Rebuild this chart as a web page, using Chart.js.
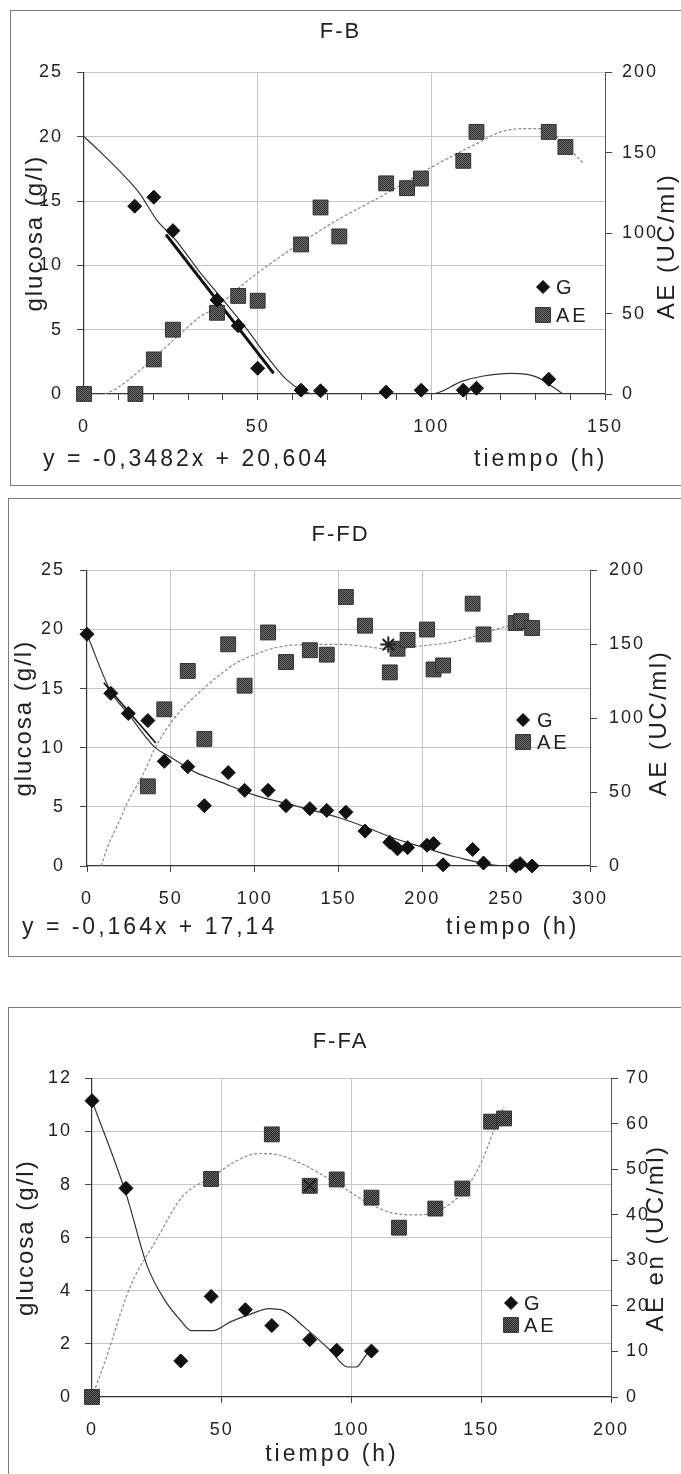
<!DOCTYPE html>
<html>
<head>
<meta charset="utf-8">
<title>F-B, F-FD, F-FA</title>
<script src="https://cdn.jsdelivr.net/npm/chart.js@4.4.1/dist/chart.umd.min.js"></script>
<style>
    html, body { margin: 0; padding: 0; background: #fff; }
    body { position: relative; width: 681px; height: 1474px; overflow: hidden; }
    .frame { position: absolute; border: 1px solid #7a7a7a; }
    canvas { position: absolute; left: 0; }
</style>
</head>
<body>
<div class="frame" style="left:10px; top:10px; width:700px; height:474px;"></div>
<div class="frame" style="left:8px; top:498px; width:700px; height:457px;"></div>
<div class="frame" style="left:8px; top:1007px; width:700px; height:520px;"></div>

<canvas id="chartFB" width="681" height="475" style="top:10px; width:681px; height:475px;"></canvas>
<canvas id="chartFFD" width="681" height="458" style="top:498px; width:681px; height:458px;"></canvas>
<canvas id="chartFFA" width="681" height="467" style="top:1007px; width:681px; height:467px;"></canvas>

<script>
// ---- F-B ----
const fbTimeG = [14.6, 20.1, 25.6, 38.3, 44.4, 50, 62.5, 68.1, 87, 97.1, 109.2, 113, 133.8];
const fbGlucose = [14.6, 15.3, 12.7, 7.3, 5.3, 2.0, 0.3, 0.25, 0.15, 0.3, 0.3, 0.45, 1.15];
const fbTimeAE = [0, 14.8, 20.1, 25.6, 38.3, 44.4, 50, 62.5, 68.1, 73.5, 87, 93, 97, 109.2, 113, 133.8, 138.6];
const fbAE = [0, 0, 21.5, 40, 50.5, 61, 58, 93, 116, 98, 131, 128, 134, 145, 163, 163, 153.6];
const fbFitGTime = [0, 4, 10, 16, 21, 26, 33, 41, 47, 53, 58, 62.5, 66, 100, 109, 115, 123, 130, 138];
const fbFitG = [20, 19, 17.4, 15.6, 13.5, 12.1, 9.6, 7.0, 5.0, 2.8, 1.2, 0.3, 0, 0, 1.0, 1.4, 1.6, 1.35, 0];
const fbFitAETime = [6, 9.4, 20, 25.7, 33.4, 38.2, 44.9, 53.6, 62.2, 72.8, 85.2, 100, 113, 120, 126, 132.6, 138.6, 144];
const fbFitAE = [0, 3.5, 22, 33.5, 48, 54, 66.6, 81, 93.6, 108, 122.5, 141, 155.7, 163, 165, 165, 154.7, 143];
const fbRegTime = [23.6, 54.6];
const fbRegG = [12.4, 1.6];

// ---- F-FD ----
const fdTimeG = [0, 14.2, 24.6, 36.3, 46.1, 60.1, 70, 84.2, 94, 108, 118.7, 132.9, 143, 154.4, 165.8, 180.6, 185.2, 191.2, 202.8, 206.7, 212.4, 230, 236.5, 255.7, 258.3, 265.5];
const fdGlucose = [19.6, 14.6, 12.9, 12.3, 8.85, 8.4, 5.1, 7.9, 6.4, 6.4, 5.1, 4.85, 4.7, 4.55, 2.95, 2.0, 1.45, 1.55, 1.75, 1.9, 0.1, 1.4, 0.25, 0, 0.2, 0];
const fdTimeAE = [36.3, 46.1, 60.1, 70, 84.2, 94, 108, 118.7, 132.9, 143, 154.4, 165.8, 180.6, 185.2, 191.2, 202.8, 206.7, 212.4, 230, 236.5, 255.7, 259, 265.5];
const fdAE = [53.9, 106, 132, 86, 150, 122, 158, 138, 146, 143, 182, 162.6, 131, 147, 153, 160, 133, 135.7, 177.5, 156.7, 164.4, 165.7, 161];
const fdFitGTime = [0, 14, 25, 40, 50, 65, 78, 100, 124, 150, 166, 181, 200, 220, 250, 275];
const fdFitG = [19.6, 14.8, 12.8, 10.1, 9.2, 7.9, 7.2, 6.0, 5.1, 4.1, 3.3, 2.45, 1.6, 0.76, 0, 0];
const fdFitAETime = [8.5, 12, 18.7, 25, 32.6, 40.5, 50, 60, 69.4, 80, 90, 100, 110, 123, 150, 170, 180, 200, 220, 250, 262];
const fdFitAE = [0, 12, 29, 45, 60, 79.5, 97, 110, 120, 130, 138, 143, 147, 149.5, 150, 148, 146.5, 149, 152, 162, 165];
const fdRegTime = [10, 41];
const fdRegG = [15.5, 10.4];
const fdStarTime = [179.7];
const fdStarAE = [149.8];

// ---- F-FA ----
const faTimeG = [0, 13.1, 34.2, 45.9, 59.1, 69.3, 83.9, 94.3, 107.7];
const faGlucose = [11.16, 7.86, 1.36, 3.79, 3.29, 2.69, 2.16, 1.76, 1.73];
const faTimeAE = [0, 45.9, 69.3, 83.9, 94.3, 107.7, 118.3, 132.3, 142.7, 153.8, 158.8];
const faAE = [0, 47.9, 57.7, 46.4, 47.8, 43.8, 37.2, 41.4, 45.8, 60.5, 61.2];
const faFitGTime = [0, 13.1, 21.4, 28.1, 34, 38.2, 46.6, 53.3, 61.6, 68.3, 73.4, 81.7, 91.8, 98.5, 101.8, 106, 107.7];
const faFitG = [11.16, 7.66, 4.9, 3.64, 2.9, 2.5, 2.5, 2.83, 3.14, 3.33, 3.27, 2.64, 1.76, 1.13, 1.13, 1.63, 1.76];
const faFitAETime = [0, 4.7, 14.7, 24.8, 34.8, 46.6, 55, 64.2, 71.7, 81.7, 95.1, 106.9, 115.2, 125.3, 133.7, 143.7, 150.4, 155.4, 158.8];
const faFitAE = [0, 7.3, 24.2, 34.5, 44, 48.4, 51.7, 53.5, 53.2, 51, 46.6, 42.5, 40.5, 40, 41, 45.5, 52, 59.4, 63.8];
const faStarTime = [83.9];
const faStarAE = [46.4];

const FONT = '"Liberation Sans", Arial, Helvetica, sans-serif';
Chart.defaults.font.family = FONT;
Chart.defaults.color = '#222';

function toPoints(xs, ys) {
    return xs.map((x, i) => ({ x: x, y: ys[i] }));
}

// speckled grey fill like the scanned squares
function makeTexture(dark, light) {
    const c = document.createElement('canvas');
    c.width = 2;
    c.height = 2;
    const g = c.getContext('2d');
    g.fillStyle = light;
    g.fillRect(0, 0, 2, 2);
    g.fillStyle = dark;
    g.fillRect(0, 0, 1, 1);
    g.fillRect(1, 1, 1, 1);
    return g.createPattern(c, 'repeat');
}

// extra texts (right axis title, equation, x title) and the in-plot legend
const panelText = {
    id: 'panelText',
    beforeLayout(chart) { chart.ctx.letterSpacing = '2px'; },
    beforeDraw(chart) { chart.ctx.letterSpacing = '2px'; },
    afterDraw(chart, args, opts) {
        const ctx = chart.ctx;
        (opts.labels || []).forEach(l => {
            ctx.save();
            ctx.letterSpacing = l.spacing || '2px';
            ctx.font = l.size + 'px ' + FONT;
            ctx.fillStyle = '#222';
            ctx.textAlign = l.align || 'left';
            ctx.textBaseline = 'middle';
            ctx.translate(l.x, l.y);
            if (l.rotate) ctx.rotate(l.rotate * Math.PI / 180);
            ctx.fillText(l.text, 0, 0);
            ctx.restore();
        });

        const lg = opts.legend;
        if (!lg) return;
        lg.items.forEach((it, i) => {
            const ds = chart.data.datasets[it.dataset];
            const y = lg.y + i * lg.gap;
            ctx.save();
            ctx.fillStyle = ds.backgroundColor;
            ctx.strokeStyle = ds.borderColor;
            ctx.lineWidth = ds.borderWidth;
            Chart.helpers.drawPoint(ctx, {
                pointStyle: ds.pointStyle, radius: it.radius, rotation: 0, borderWidth: ds.borderWidth
            }, lg.x, y);
            ctx.letterSpacing = '3px';
            ctx.font = '20px ' + FONT;
            ctx.fillStyle = '#222';
            ctx.textAlign = 'left';
            ctx.textBaseline = 'middle';
            ctx.fillText(ds.label, lg.textX, y + 1);
            ctx.restore();
        });
    }
};

function buildPanel(id, cfg) {
    const squareFill = makeTexture(cfg.squareDark, '#6a6a6a');
    const datasets = [
        {
            label: 'G', data: toPoints(cfg.g[0], cfg.g[1]), yAxisID: 'y',
            pointStyle: 'rectRot', pointRadius: 7, pointHoverRadius: 7,
            backgroundColor: '#111', borderColor: '#111', borderWidth: 1,
            showLine: false, clip: false, order: 1
        },
        {
            label: 'AE', data: toPoints(cfg.ae[0], cfg.ae[1]), yAxisID: 'y1',
            pointStyle: 'rect', pointRadius: 10.5, pointHoverRadius: 10.5,
            backgroundColor: squareFill, borderColor: '#333', borderWidth: 1,
            showLine: false, clip: false, order: 2
        },
        {
            label: 'fitG', data: toPoints(cfg.fitG[0], cfg.fitG[1]), yAxisID: 'y',
            showLine: true, pointRadius: 0, borderColor: '#333', borderWidth: 1.2,
            cubicInterpolationMode: 'monotone', order: 6
        },
        {
            label: 'fitAE', data: toPoints(cfg.fitAE[0], cfg.fitAE[1]), yAxisID: 'y1',
            showLine: true, pointRadius: 0, borderColor: '#8a8a8a', borderWidth: 1.2,
            borderDash: [3, 2], cubicInterpolationMode: 'monotone', order: 7
        }
    ];
    if (cfg.reg) {
        datasets.push({
            label: 'reg', data: toPoints(cfg.reg[0], cfg.reg[1]), yAxisID: 'y',
            showLine: true, pointRadius: 0, borderColor: '#111', borderWidth: cfg.regWidth, order: 5
        });
    }
    if (cfg.star) {
        datasets.push({
            label: 'x', data: toPoints(cfg.star[0], cfg.star[1]), yAxisID: 'y1',
            pointStyle: cfg.starStyle, pointRadius: 8, borderColor: '#222', borderWidth: 2,
            backgroundColor: '#222', showLine: false, clip: false, order: 0
        });
    }

    const grid = '#c6c6c6';
    const tickFont = { size: 18 };

    return new Chart(document.getElementById(id), {
        type: 'scatter',
        data: { datasets: datasets },
        plugins: [panelText],
        options: {
            responsive: false,
            animation: false,
            events: [],
            layout: { padding: 0 },
            plugins: {
                legend: { display: false },
                tooltip: { enabled: false },
                title: {
                    display: true, text: cfg.title, color: '#222',
                    font: { size: 22, weight: 'normal' },
                    padding: cfg.titlePad
                },
                panelText: { labels: cfg.texts, legend: cfg.legend }
            },
            scales: {
                x: {
                    type: 'linear', position: 'bottom', min: 0, max: cfg.xMax,
                    ticks: {
                        stepSize: cfg.xStep, autoSkip: false, maxRotation: 0,
                        padding: 16, font: tickFont, color: '#222',
                        callback: v => (v % cfg.xLabelEvery === 0 ? v : '')
                    },
                    grid: {
                        color: c => (c.tick && c.tick.value % cfg.xLabelEvery === 0 &&
                            c.tick.value > 0 && c.tick.value < cfg.xMax) ? grid : 'rgba(0,0,0,0)',
                        tickColor: '#444', tickLength: 6
                    },
                    border: { color: '#333', width: 1.2 },
                    afterFit: s => { s.height = cfg.xHeight; }
                },
                y: {
                    type: 'linear', position: 'left', min: 0, max: cfg.yMax,
                    ticks: { stepSize: cfg.yStep, padding: cfg.yLabelPad, font: tickFont, color: '#222' },
                    grid: {
                        color: c => (c.tick && c.tick.value > 0) ? grid : 'rgba(0,0,0,0)',
                        tickColor: '#444', tickLength: 7
                    },
                    border: { color: '#333', width: 1.2 },
                    title: {
                        display: true, text: 'glucosa (g/l)', color: '#222',
                        font: { size: 24 }, padding: { top: cfg.yTitlePad, bottom: 0 }
                    },
                    afterFit: s => { s.width = cfg.yWidth; }
                },
                y1: {
                    type: 'linear', position: 'right', min: 0, max: cfg.y1Max,
                    ticks: { stepSize: cfg.y1Step, padding: cfg.y1LabelPad, font: tickFont, color: '#222' },
                    grid: { drawOnChartArea: false, tickColor: '#444', tickLength: 7 },
                    border: { color: '#555', width: 1 },
                    afterFit: s => { s.width = cfg.y1Width; }
                }
            }
        }
    });
}

buildPanel('chartFB', {
    title: 'F-B', titlePad: { top: 9, bottom: 27 },
    xMax: 150, xStep: 10, xLabelEvery: 50, xHeight: 91,
    yMax: 25, yStep: 5, yWidth: 84, yTitlePad: 21, yLabelPad: 14,
    y1Max: 200, y1Step: 50, y1Width: 76, y1LabelPad: 10,
    squareDark: '#333',
    g: [fbTimeG, fbGlucose], ae: [fbTimeAE, fbAE],
    fitG: [fbFitGTime, fbFitG], fitAE: [fbFitAETime, fbFitAE],
    reg: [fbRegTime, fbRegG], regWidth: 3,
    texts: [
        { text: 'AE (UC/ml)', x: 667, y: 236, rotate: -90, size: 24, align: 'center', spacing: '2.5px' },
        { text: 'y = -0,3482x + 20,604', x: 43, y: 450, size: 23, spacing: '3px' },
        { text: 'tiempo (h)', x: 474, y: 450, size: 23, spacing: '3px' }
    ],
    legend: { x: 543, y: 277, gap: 28, textX: 556, items: [{ dataset: 0, radius: 6.5 }, { dataset: 1, radius: 10.5 }] }
});

buildPanel('chartFFD', {
    title: 'F-FD', titlePad: { top: 24, bottom: 22 },
    xMax: 300, xStep: 50, xLabelEvery: 50, xHeight: 90,
    yMax: 25, yStep: 5, yWidth: 87, yTitlePad: 10, yLabelPad: 15,
    y1Max: 200, y1Step: 50, y1Width: 91, y1LabelPad: 12,
    squareDark: '#333',
    g: [fdTimeG, fdGlucose], ae: [fdTimeAE, fdAE],
    fitG: [fdFitGTime, fdFitG], fitAE: [fdFitAETime, fdFitAE],
    reg: [fdRegTime, fdRegG], regWidth: 1.6,
    star: [fdStarTime, fdStarAE], starStyle: 'star',
    texts: [
        { text: 'AE (UC/ml)', x: 659, y: 225, rotate: -90, size: 24, align: 'center', spacing: '2.5px' },
        { text: 'y = -0,164x + 17,14', x: 22, y: 430, size: 23, spacing: '3px' },
        { text: 'tiempo (h)', x: 446, y: 430, size: 23, spacing: '3px' }
    ],
    legend: { x: 523, y: 222, gap: 22, textX: 537, items: [{ dataset: 0, radius: 6.5 }, { dataset: 1, radius: 10.5 }] }
});

buildPanel('chartFFA', {
    title: 'F-FA', titlePad: { top: 22, bottom: 23 },
    xMax: 200, xStep: 50, xLabelEvery: 50, xHeight: 77,
    yMax: 12, yStep: 2, yWidth: 92, yTitlePad: 12, yLabelPad: 13,
    y1Max: 70, y1Step: 10, y1Width: 70, y1LabelPad: 8,
    squareDark: '#222',
    g: [faTimeG, faGlucose], ae: [faTimeAE, faAE],
    fitG: [faFitGTime, faFitG], fitAE: [faFitAETime, faFitAE],
    star: [faStarTime, faStarAE], starStyle: 'crossRot',
    texts: [
        { text: 'AE en (UC/ml)', x: 656, y: 231, rotate: -90, size: 24, align: 'center', spacing: '2.5px' },
        { text: 'tiempo (h)', x: 332, y: 448, size: 23, align: 'center', spacing: '3px' }
    ],
    legend: { x: 511, y: 296, gap: 22, textX: 524, items: [{ dataset: 0, radius: 6.5 }, { dataset: 1, radius: 10.5 }] }
});
</script>
</body>
</html>
